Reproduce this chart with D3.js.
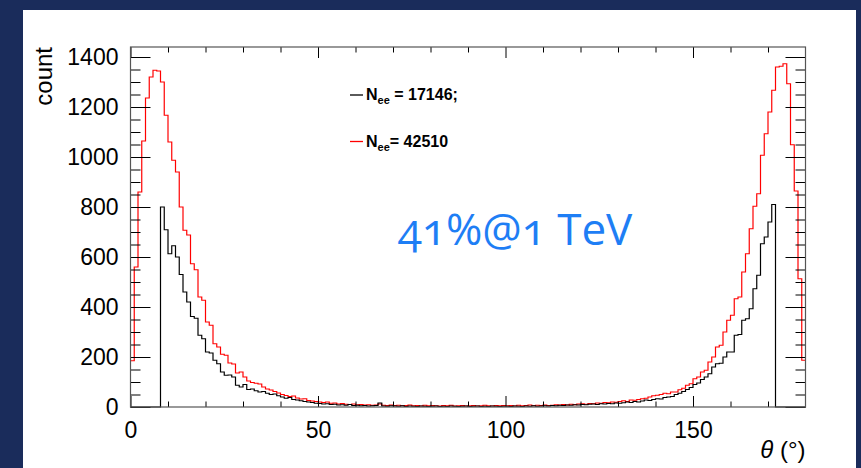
<!DOCTYPE html>
<html>
<head>
<meta charset="utf-8">
<script src="https://d3js.org/d3.v7.min.js"></script>
<style>
  body { margin: 0; background: #1a2c5b; }
  svg { display: block; }
  .axis text { font-family: "Liberation Sans", Arial, sans-serif; font-size: 23px; fill: #000; }
  .axis path { display: none; }
  .axis line { stroke: #000; stroke-width: 1; }
</style>
</head>
<body>
<svg width="861" height="468"></svg>
<script>
// theta bins, 1 degree wide, 0..180
var xTicks = [0, 50, 100, 150];
var xMinorTicks = [10, 20, 30, 40, 60, 70, 80, 90, 110, 120, 130, 140, 160, 170];
var yTicks = [0, 200, 400, 600, 800, 1000, 1200, 1400];
var yMinorTicks = [50, 100, 150, 250, 300, 350, 450, 500, 550, 650, 700, 750,
                   850, 900, 950, 1050, 1100, 1150, 1250, 1300, 1350];

// red histogram (N_ee = 42510)
var redCounts = [
  185, 560, 860, 1064, 1236, 1320, 1347, 1344, 1300, 1167,
  1060, 987, 940, 800, 707, 688, 573, 549, 440, 427,
  340, 327, 253, 240, 211, 207, 176, 172, 136, 140,
  120, 104, 98, 95, 92, 80, 72, 68, 62, 56,
  50, 46, 42, 44, 36, 32, 33, 26, 24, 22,
  20, 18, 20, 15, 16, 12, 14, 11, 10, 12,
  9, 10, 8, 9, 7, 8, 12, 7, 6, 8,
  6, 7, 5, 6, 8, 5, 6, 4, 7, 5,
  6, 5, 4, 6, 5, 7, 4, 5, 6, 4,
  5, 6, 4, 5, 7, 5, 4, 6, 5, 6,
  5, 6, 4, 7, 5, 6, 8, 5, 7, 6,
  8, 6, 7, 9, 8, 10, 8, 11, 9, 12,
  13, 11, 14, 13, 16, 15, 18, 17, 20, 19,
  22, 25, 22, 28, 27, 30, 33, 35, 40, 45,
  47, 50, 55, 53, 60, 60, 69, 75, 87, 93,
  113, 120, 140, 147, 180, 200, 240, 247, 300, 347,
  367, 433, 440, 540, 613, 713, 803, 853, 1007, 1093,
  1180, 1267, 1360, 1363, 1373, 1293, 1049, 864, 513, 187
];

// black histogram (N_ee = 17146)
var blackCounts = [
  0, 0, 0, 0, 0, 0, 0, 0, 800, 709,
  613, 645, 600, 530, 460, 420, 362, 355, 287, 273,
  220, 216, 187, 173, 140, 127, 128, 120, 87, 80,
  90, 70, 72, 65, 60, 62, 55, 50, 52, 45,
  40, 35, 38, 30, 28, 25, 22, 20, 18, 15,
  14, 12, 13, 10, 11, 8, 9, 7, 10, 6,
  7, 5, 6, 4, 5, 6, 16, 4, 3, 5,
  4, 3, 5, 2, 4, 3, 2, 4, 3, 2,
  3, 4, 2, 3, 2, 4, 3, 2, 3, 4,
  2, 3, 4, 2, 3, 2, 4, 3, 2, 3,
  3, 2, 4, 3, 2, 4, 3, 5, 3, 4,
  5, 4, 6, 5, 7, 6, 8, 7, 9, 8,
  10, 9, 11, 12, 10, 13, 12, 14, 13, 16,
  15, 17, 20, 18, 22, 20, 24, 28, 26, 30,
  33, 32, 38, 40, 42, 50, 55, 62, 70, 78,
  90, 96, 110, 120, 133, 160, 173, 175, 200, 220,
  220, 287, 290, 347, 353, 393, 473, 527, 653, 680,
  740, 810, 0, 0, 0, 0, 0, 0, 0, 0
];

var legendLabels = [
  {sub: "ee", text: " = 17146;", color: "#000000"},
  {sub: "ee", text: "= 42510", color: "#ff0000"}
];

var svg = d3.select("svg");

// white pad
svg.append("rect")
  .attr("x", 23).attr("y", 10)
  .attr("width", 833).attr("height", 470)
  .attr("fill", "#fff");

var x = d3.scaleLinear().domain([0, 180]).range([130.5, 805.5]);
var y = d3.scaleLinear().domain([0, 1440]).range([407, 47]);

// turn counts into a step outline
function stepPoints(counts) {
  var pts = [];
  counts.forEach(function(c, i) {
    pts.push([i, c]);
    pts.push([i + 1, c]);
  });
  return pts;
}

var line = d3.line()
  .x(function(d) { return x(d[0]); })
  .y(function(d) { return y(d[1]); });

var plot = svg.append("g");

plot.append("path")
  .attr("d", line(stepPoints(redCounts)))
  .attr("fill", "none")
  .attr("stroke", "#ff0000")
  .attr("stroke-width", 1.2);

plot.append("path")
  .attr("d", line(stepPoints(blackCounts)))
  .attr("fill", "none")
  .attr("stroke", "#000")
  .attr("stroke-width", 1.2);

// AXES - ticks point inwards like ROOT
var fmt = d3.format("d");
svg.append("g").attr("class", "axis")
  .attr("transform", "translate(" + x(0) + ",0)")
  .call(d3.axisLeft(y).tickValues(yTicks).tickFormat(fmt).tickSizeInner(-20).tickSizeOuter(0).tickPadding(12));
svg.append("g").attr("class", "axis")
  .attr("transform", "translate(" + x(0) + ",0)")
  .call(d3.axisLeft(y).tickValues(yMinorTicks).tickSizeInner(-10).tickSizeOuter(0).tickFormat(""));
svg.append("g").attr("class", "axis")
  .attr("transform", "translate(" + x(180) + ",0)")
  .call(d3.axisRight(y).tickValues(yTicks).tickSizeInner(-20).tickSizeOuter(0).tickFormat(""));
svg.append("g").attr("class", "axis")
  .attr("transform", "translate(" + x(180) + ",0)")
  .call(d3.axisRight(y).tickValues(yMinorTicks).tickSizeInner(-10).tickSizeOuter(0).tickFormat(""));

svg.append("g").attr("class", "axis")
  .attr("transform", "translate(0," + y(0) + ")")
  .call(d3.axisBottom(x).tickValues(xTicks).tickFormat(fmt).tickSizeInner(-11).tickSizeOuter(0).tickPadding(15));
svg.append("g").attr("class", "axis")
  .attr("transform", "translate(0," + y(0) + ")")
  .call(d3.axisBottom(x).tickValues(xMinorTicks).tickSizeInner(-5.5).tickSizeOuter(0).tickFormat(""));
svg.append("g").attr("class", "axis")
  .attr("transform", "translate(0," + y(1440) + ")")
  .call(d3.axisTop(x).tickValues(xTicks).tickSizeInner(-11).tickSizeOuter(0).tickFormat(""));
svg.append("g").attr("class", "axis")
  .attr("transform", "translate(0," + y(1440) + ")")
  .call(d3.axisTop(x).tickValues(xMinorTicks).tickSizeInner(-5.5).tickSizeOuter(0).tickFormat(""));

// frame
svg.append("rect")
  .attr("x", x(0)).attr("y", y(1440))
  .attr("width", x(180) - x(0)).attr("height", y(0) - y(1440))
  .attr("fill", "none")
  .attr("stroke", "#555")
  .attr("stroke-width", 1.2);

// axis titles
svg.append("text")
  .attr("transform", "translate(52," + y(1440) + ") rotate(-90)")
  .attr("text-anchor", "end")
  .style("font-family", "Liberation Sans, Arial, sans-serif")
  .style("font-size", "24px")
  .text("count");

var xt = svg.append("text")
  .attr("x", x(180)).attr("y", 458)
  .attr("text-anchor", "end")
  .style("font-family", "Liberation Sans, Arial, sans-serif")
  .style("font-size", "24px");
xt.append("tspan").style("font-style", "italic").text("θ");
xt.append("tspan").text(" (°)");

// legend
var legend = svg.append("g");
legendLabels.forEach(function(d, i) {
  var ly = 95 + i * 46.5;
  legend.append("line")
    .attr("x1", 350).attr("x2", 363)
    .attr("y1", ly).attr("y2", ly)
    .style("stroke", d.color).style("stroke-width", 1.3);
  var t = legend.append("text")
    .attr("x", 366).attr("y", ly + 5)
    .style("font-family", "Liberation Sans, Arial, sans-serif")
    .style("font-weight", "bold")
    .style("font-size", "16px");
  t.append("tspan").text("N");
  t.append("tspan").attr("dy", 4).style("font-size", "11px").text(d.sub);
  t.append("tspan").attr("dy", -4).text(d.text);
});

// big blue note
svg.append("text")
  .attr("x", 398).attr("y", 245)
  .style("font-family", "Open Sans, sans-serif")
  .style("font-size", "44px")
  .style("font-variant-numeric", "oldstyle-nums")
  .attr("fill", "#1e7ef5")
  .text("41%@1 TeV");
</script>
</body>
</html>
